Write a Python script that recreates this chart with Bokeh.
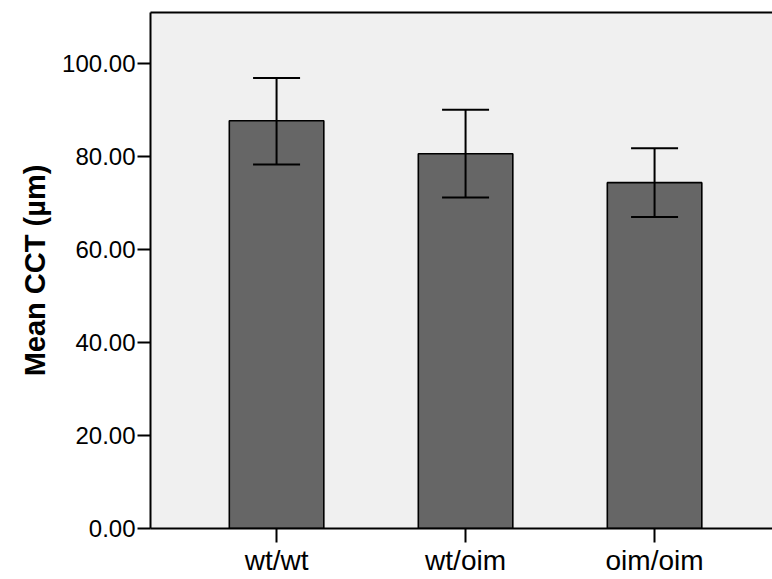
from bokeh.plotting import figure
from bokeh.models import (Range1d, FixedTicker, NumeralTickFormatter, LinearAxis,
                          ColumnDataSource, Whisker, TeeHead)
from bokeh.embed import file_html
from bokeh.resources import INLINE

categories = ["wt/wt", "wt/oim", "oim/oim"]
means = [87.7, 80.6, 74.4]
upper = [96.9, 90.1, 81.8]
lower = [78.3, 71.2, 67.0]
y_ticks = [0, 20, 40, 60, 80, 100]

xs = list(range(1, len(categories) + 1))
src = ColumnDataSource(dict(x=xs, top=means, upper=upper, lower=lower))

p = figure(width=772, height=579, output_backend="svg", toolbar_location=None,
           x_range=Range1d(0.333, 3.624), y_range=Range1d(0, 111),
           min_border_left=150, min_border_right=0, min_border_top=12,
           min_border_bottom=51)
p.background_fill_color = "#f0f0f0"
p.border_fill_color = "white"
p.outline_line_color = None
p.xgrid.visible = False
p.ygrid.visible = False

p.vbar(x="x", top="top", width=0.5, bottom=0, source=src,
       fill_color="#666666", line_color="black", line_width=1.6)

w = Whisker(source=src, base="x", upper="upper", lower="lower",
            line_color="black", line_width=2, level="overlay",
            upper_head=TeeHead(size=47, line_color="black", line_width=2),
            lower_head=TeeHead(size=47, line_color="black", line_width=2))
p.add_layout(w)

font = "Liberation Sans"

ya = p.yaxis[0]
ya.ticker = FixedTicker(ticks=y_ticks)
ya.formatter = NumeralTickFormatter(format="0.00")
ya.minor_tick_line_color = None
ya.major_tick_in = 0
ya.major_tick_out = 13
ya.major_tick_line_width = 2
ya.axis_line_width = 2
ya.major_label_text_font = font
ya.major_label_text_font_size = "24px"
ya.major_label_text_color = "black"
ya.major_label_standoff = 2
ya.axis_label = "Mean CCT (µm)"
ya.axis_label_text_font = font
ya.axis_label_text_font_style = "bold"
ya.axis_label_text_font_size = "29px"
ya.axis_label_text_color = "black"
ya.axis_label_standoff = 8

xa = p.xaxis[0]
xa.ticker = FixedTicker(ticks=xs)
xa.major_label_overrides = {i: c for i, c in zip(xs, categories)}
xa.minor_tick_line_color = None
xa.major_tick_in = 0
xa.major_tick_out = 14
xa.major_tick_line_width = 2
xa.axis_line_width = 2
xa.major_label_text_font = font
xa.major_label_text_font_size = "28px"
xa.major_label_text_color = "black"
xa.major_label_standoff = 2

top_axis = LinearAxis(axis_line_width=2, major_tick_line_color=None,
                      minor_tick_line_color=None, major_label_text_font_size="0px",
                      major_label_text_color=None)
p.add_layout(top_axis, "above")

open("out.html", "w").write(file_html(p, INLINE))
